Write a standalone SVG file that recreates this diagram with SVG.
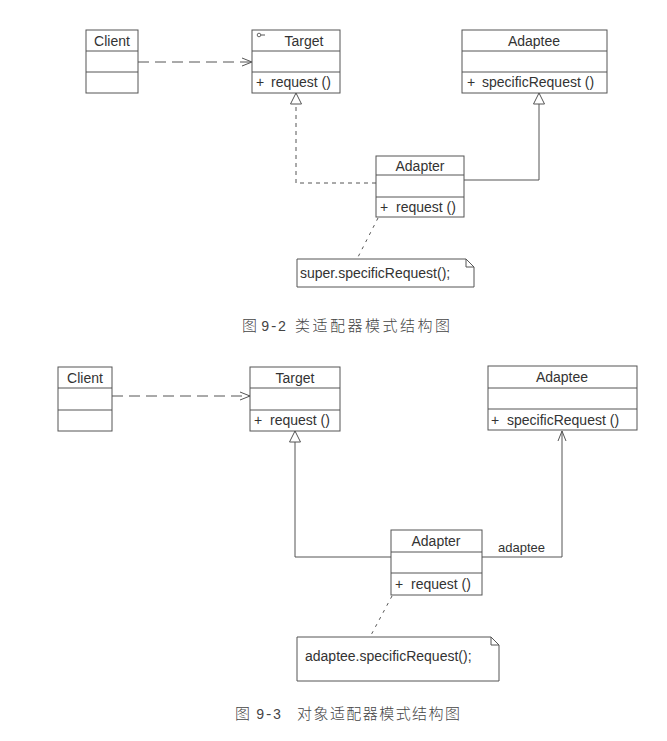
<svg xmlns="http://www.w3.org/2000/svg" width="667" height="741" viewBox="0 0 667 741">
  <defs>
    <style>
      .box { fill: #ffffff; stroke: #555555; stroke-width: 1; }
      .sep { stroke: #555555; stroke-width: 1; }
      .t { font-family: "Liberation Sans", Arial, sans-serif; font-size: 14px; fill: #333333; }
      .c { text-anchor: middle; }
      .solid { fill: none; stroke: #555555; stroke-width: 1; }
      .dash { fill: none; stroke: #555555; stroke-width: 1; stroke-dasharray: 4 4; }
      .dep { fill: none; stroke: #555555; stroke-width: 1; stroke-dasharray: 11 6; }
      .dot { fill: none; stroke: #555555; stroke-width: 1; stroke-dasharray: 3 5; }
      .cap { font-family: "Noto Sans CJK SC", "Liberation Serif", serif; font-size: 15px; fill: #444444; font-weight: 300; }
      .num { font-family: "Liberation Mono", "Noto Sans CJK SC", monospace; font-size: 14px; fill: #444444; }
    </style>
    <marker id="open" markerWidth="12" markerHeight="12" refX="11" refY="6" orient="auto" markerUnits="userSpaceOnUse">
      <path d="M1,2 L11,6 L1,10" fill="none" stroke="#555555" stroke-width="1"/>
    </marker>
    <marker id="tri" markerWidth="14" markerHeight="14" refX="12" refY="7" orient="auto" markerUnits="userSpaceOnUse">
      <path d="M1,1.5 L12,7 L1,12.5 Z" fill="#ffffff" stroke="#555555" stroke-width="1"/>
    </marker>
  </defs>
  <rect width="667" height="741" fill="#ffffff"/>

  <!-- Class adapter -->
  <g id="connectors-class">
    <line class="dep" x1="138" y1="62" x2="252" y2="62" marker-end="url(#open)"/>
    <polyline class="dash" points="376,183 296,183 296,93" marker-end="url(#tri)"/>
    <polyline class="solid" points="464,180 539,180 539,93" marker-end="url(#tri)"/>
    <line class="dot" x1="378" y1="218" x2="357" y2="259"/>
  </g>

  <g id="client1">
    <rect class="box" x="86" y="30" width="52" height="63"/>
    <line class="sep" x1="86" y1="51" x2="138" y2="51"/>
    <line class="sep" x1="86" y1="72" x2="138" y2="72"/>
    <text class="t c" x="112" y="46">Client</text>
  </g>

  <g id="target1">
    <rect class="box" x="252" y="30" width="88" height="63"/>
    <line class="sep" x1="252" y1="51" x2="340" y2="51"/>
    <line class="sep" x1="252" y1="72" x2="340" y2="72"/>
    <circle cx="259" cy="35" r="1.8" fill="none" stroke="#555555" stroke-width="0.9"/>
    <line class="sep" x1="261" y1="35" x2="265" y2="35"/>
    <text class="t c" x="304" y="46">Target</text>
    <text class="t" x="256" y="87">+</text>
    <text class="t" x="271" y="87">request ()</text>
  </g>

  <g id="adaptee1">
    <rect class="box" x="462" y="30" width="145" height="63"/>
    <line class="sep" x1="462" y1="51" x2="607" y2="51"/>
    <line class="sep" x1="462" y1="72" x2="607" y2="72"/>
    <text class="t c" x="534" y="46">Adaptee</text>
    <text class="t" x="467" y="87">+</text>
    <text class="t" x="482" y="87">specificRequest ()</text>
  </g>

  <g id="adapter1">
    <rect class="box" x="376" y="156" width="88" height="61"/>
    <line class="sep" x1="376" y1="175" x2="464" y2="175"/>
    <line class="sep" x1="376" y1="197" x2="464" y2="197"/>
    <text class="t c" x="420" y="171">Adapter</text>
    <text class="t" x="380" y="212">+</text>
    <text class="t" x="396" y="212">request ()</text>
  </g>

  <g id="note1">
    <path class="box" d="M297,259 L466,259 L474,267 L474,287 L297,287 Z"/>
    <path class="solid" d="M466,259 L466,267 L474,267"/>
    <text class="t" x="300" y="278">super.specificRequest();</text>
  </g>

  <g id="caption1">
    <text class="cap" x="242" y="331">图</text>
    <text class="num" x="261" y="331">9-2</text>
    <text class="cap" x="295" y="331" textLength="155" lengthAdjust="spacing">类适配器模式结构图</text>
  </g>

  <!-- Object adapter -->
  <g id="connectors-object">
    <line class="dep" x1="112" y1="396" x2="250" y2="396" marker-end="url(#open)"/>
    <polyline class="solid" points="391,557 295,557 295,431" marker-end="url(#tri)"/>
    <polyline class="solid" points="482,557 562,557 562,431" marker-end="url(#open)"/>
    <text class="t" x="498" y="552" style="font-size:13px">adaptee</text>
    <line class="dot" x1="392" y1="596" x2="370" y2="637"/>
  </g>

  <g id="client2">
    <rect class="box" x="58" y="367" width="54" height="64"/>
    <line class="sep" x1="58" y1="388" x2="112" y2="388"/>
    <line class="sep" x1="58" y1="410" x2="112" y2="410"/>
    <text class="t c" x="85" y="383">Client</text>
  </g>

  <g id="target2">
    <rect class="box" x="250" y="367" width="90" height="64"/>
    <line class="sep" x1="250" y1="388" x2="340" y2="388"/>
    <line class="sep" x1="250" y1="410" x2="340" y2="410"/>
    <text class="t c" x="295" y="383">Target</text>
    <text class="t" x="254" y="425">+</text>
    <text class="t" x="270" y="425">request ()</text>
  </g>

  <g id="adaptee2">
    <rect class="box" x="488" y="366" width="149" height="64"/>
    <line class="sep" x1="488" y1="388" x2="637" y2="388"/>
    <line class="sep" x1="488" y1="409" x2="637" y2="409"/>
    <text class="t c" x="562" y="382">Adaptee</text>
    <text class="t" x="491" y="425">+</text>
    <text class="t" x="507" y="425">specificRequest ()</text>
  </g>

  <g id="adapter2">
    <rect class="box" x="391" y="530" width="91" height="65"/>
    <line class="sep" x1="391" y1="552" x2="482" y2="552"/>
    <line class="sep" x1="391" y1="573" x2="482" y2="573"/>
    <text class="t c" x="436" y="546">Adapter</text>
    <text class="t" x="395" y="589">+</text>
    <text class="t" x="411" y="589">request ()</text>
  </g>

  <g id="note2">
    <path class="box" d="M297,637 L491,637 L499,645 L499,681 L297,681 Z"/>
    <path class="solid" d="M491,637 L491,645 L499,645"/>
    <text class="t" x="305" y="661">adaptee.specificRequest();</text>
  </g>

  <g id="caption2">
    <text class="cap" x="235" y="719">图</text>
    <text class="num" x="256" y="719">9-3</text>
    <text class="cap" x="297" y="719" textLength="163" lengthAdjust="spacing">对象适配器模式结构图</text>
  </g>
</svg>
